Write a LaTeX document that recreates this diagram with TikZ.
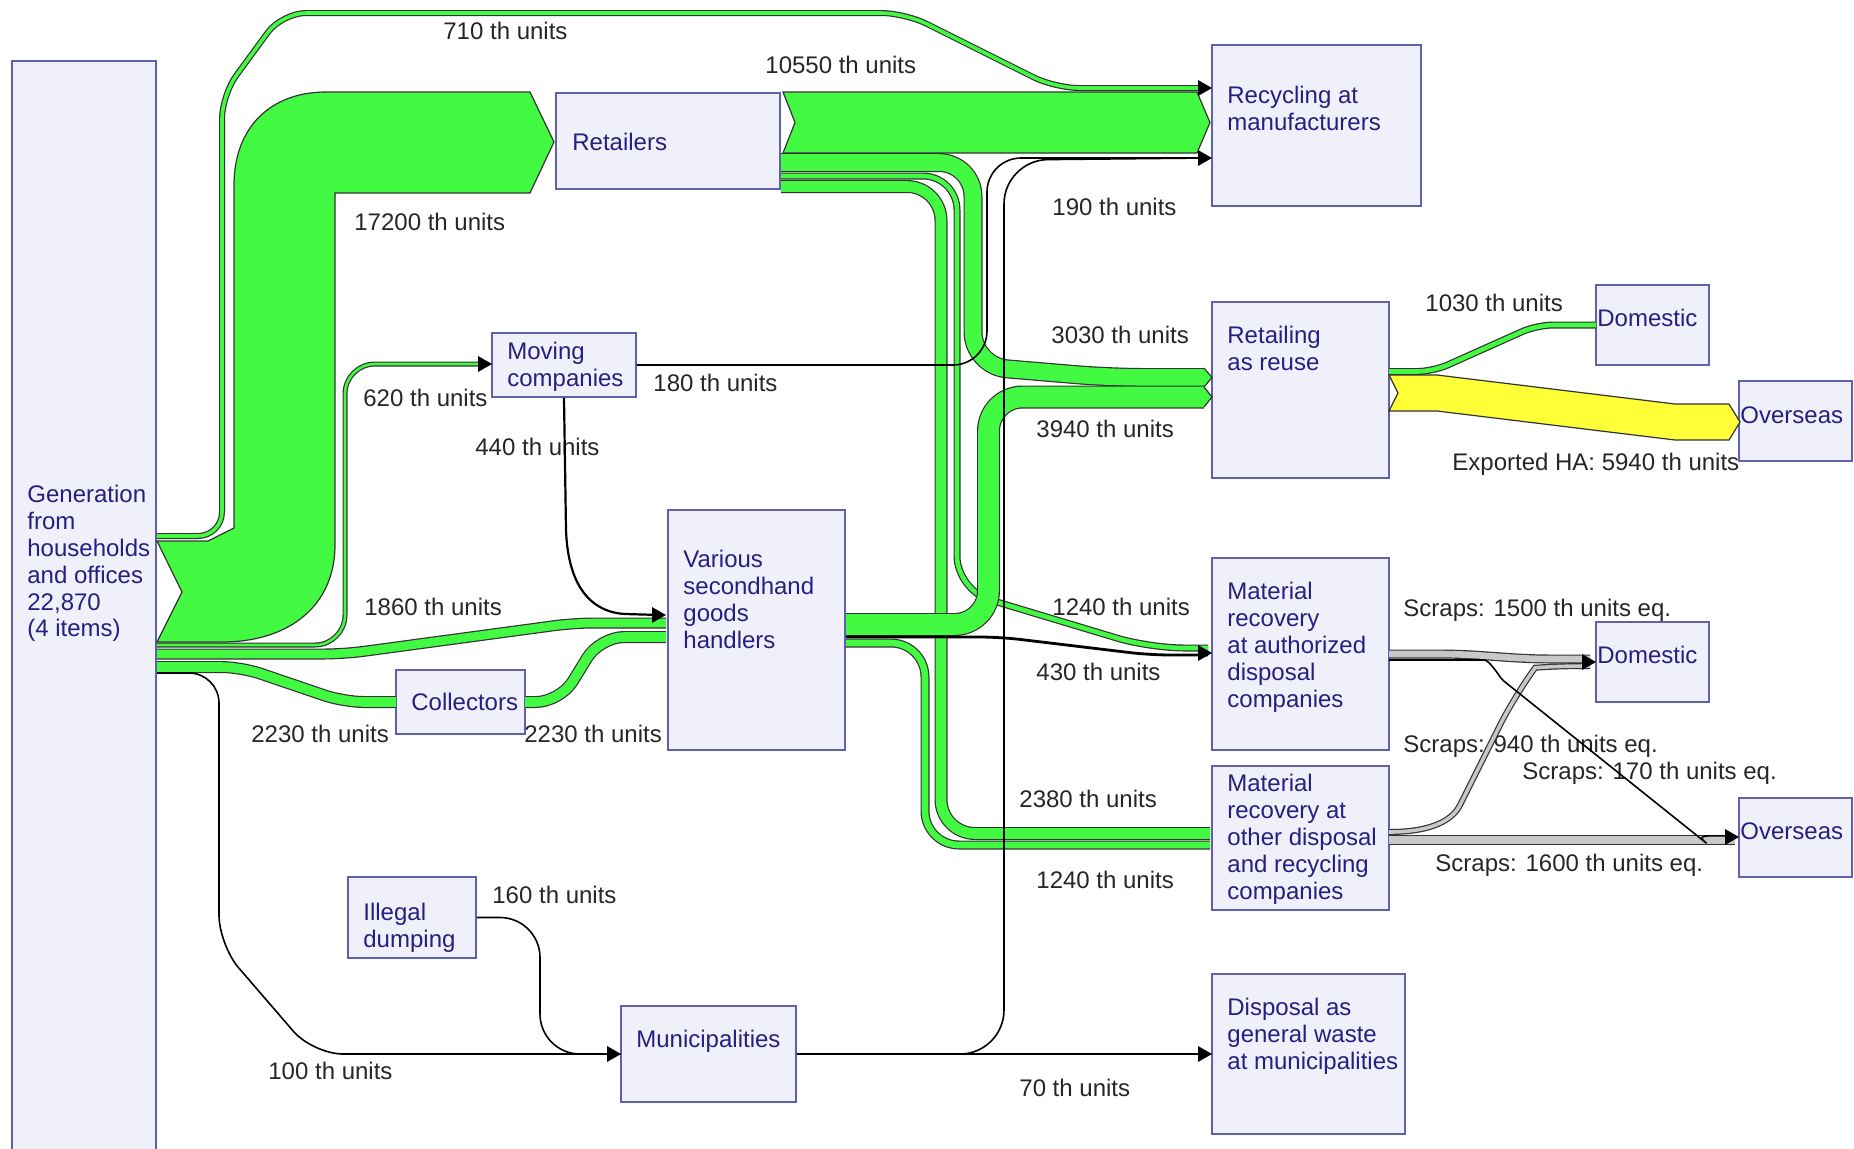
\documentclass[tikz,border=0pt]{standalone}
\usepackage{fontspec}
\setmainfont{Liberation Sans}

\definecolor{flowgreen}{RGB}{66,250,66}
\definecolor{flowyellow}{RGB}{255,255,56}
\definecolor{scrapgray}{RGB}{200,200,200}
\definecolor{boxfill}{RGB}{240,240,250}
\definecolor{boxline}{RGB}{96,96,176}
\definecolor{boxtext}{RGB}{40,30,130}

\tikzstyle{box} = [draw=boxline, fill=boxfill, line width=0.8pt, inner sep=0pt]
\tikzstyle{boxtxt} = [anchor=north west, inner sep=0pt, align=left, text=boxtext]
\tikzstyle{lbl} = [anchor=north west, inner sep=0pt, text=black!85]
\tikzstyle{flow} = [draw=black!80, line width=0.6pt, double=flowgreen, rounded corners=17pt]
\tikzstyle{scrap} = [flow, double=scrapgray, rounded corners=10pt]
\tikzstyle{wire} = [draw=black, line width=0.8pt, rounded corners=17pt]
\tikzstyle{sheet} = [fill=flowgreen, draw=black!80, line width=0.6pt]

\newcommand{\tipat}[1]{\fill ([shift={(-14,-8)}]#1) -- (#1) -- ([shift={(-14,8)}]#1) -- cycle;}
\newcommand{\chevat}[3]{\fill[flowgreen] (#1,#2) -- (#1+8,#2/2+#3/2) -- (#1,#3) -- cycle;
  \draw[black!80, line width=0.6pt] (#1,#2) -- (#1+8,#2/2+#3/2) -- (#1,#3);}

\begin{document}
\begin{tikzpicture}[x=0.5pt, y=-0.5pt, font=\fontsize{12}{13.4}\selectfont]
\useasboundingbox (0,0) rectangle (1854,1148);

\node[box, minimum width=72pt, minimum height=550pt] (gen) at (84,611) {};
\node[box, minimum width=112pt, minimum height=48pt] (ret) at (668,141) {};
\node[box, minimum width=104.5pt, minimum height=80.5pt] (rec) at (1316.5,125.5) {};
\node[box, minimum width=72pt, minimum height=32pt] (mov) at (564,365) {};
\node[box, minimum width=88.5pt, minimum height=88pt] (reu) at (1300.5,390) {};
\node[box, minimum width=56.5pt, minimum height=40pt] (domA) at (1652.5,325) {};
\node[box, minimum width=56.5pt, minimum height=40pt] (ovsA) at (1795.5,421) {};
\node[box, minimum width=88.5pt, minimum height=120pt] (var) at (756.5,630) {};
\node[box, minimum width=64.5pt, minimum height=32pt] (col) at (460.5,702) {};
\node[box, minimum width=88.5pt, minimum height=96pt] (auth) at (1300.5,654) {};
\node[box, minimum width=56.5pt, minimum height=40pt] (domB) at (1652.5,662) {};
\node[box, minimum width=88.5pt, minimum height=72pt] (oth) at (1300.5,838) {};
\node[box, minimum width=56.5pt, minimum height=39.5pt] (ovsB) at (1795.5,837.5) {};
\node[box, minimum width=64pt, minimum height=40.5pt] (ill) at (412,917.5) {};
\node[box, minimum width=87.5pt, minimum height=48pt] (mun) at (708.5,1054) {};
\node[box, minimum width=96.5pt, minimum height=80pt] (dis) at (1308.5,1054) {};

\node[boxtxt] (gentxt) at (27,485) {Generation\\from\\households\\and offices\\22,870\\(4 items)};
\node[boxtxt] (rettxt) at (572,133) {Retailers};
\node[boxtxt] (rectxt) at (1227,86) {Recycling at\\manufacturers};
\node[boxtxt] (movtxt) at (507,342) {Moving\\companies};
\node[boxtxt] (reutxt) at (1227,326) {Retailing\\as reuse};
\node[boxtxt] (domAtxt) at (1597,309) {Domestic};
\node[boxtxt] (ovsAtxt) at (1740,406) {Overseas};
\node[boxtxt] (vartxt) at (683,550) {Various\\secondhand\\goods\\handlers};
\node[boxtxt] (coltxt) at (411,693) {Collectors};
\node[boxtxt] (authtxt) at (1227,582) {Material\\recovery\\at authorized\\disposal\\companies};
\node[boxtxt] (domBtxt) at (1597,646) {Domestic};
\node[boxtxt] (othtxt) at (1227,774) {Material\\recovery at\\other disposal\\and recycling\\companies};
\node[boxtxt] (ovsBtxt) at (1740,822) {Overseas};
\node[boxtxt] (illtxt) at (363,903) {Illegal\\dumping};
\node[boxtxt] (muntxt) at (636,1030) {Municipalities};
\node[boxtxt] (distxt) at (1227,998) {Disposal as\\general waste\\at municipalities};

\node[lbl] (l710) at (443,22) {710 th units};
\node[lbl] (l10550) at (765,56) {10550 th units};
\node[lbl] (l17200) at (354,213) {17200 th units};
\node[lbl] (l190) at (1052,198) {190 th units};
\node[lbl] (l3030) at (1051,326) {3030 th units};
\node[lbl] (l620) at (363,389) {620 th units};
\node[lbl] (l180) at (653,374) {180 th units};
\node[lbl] (l440) at (475,438) {440 th units};
\node[lbl] (l3940) at (1036,420) {3940 th units};
\node[lbl] (l1030) at (1425,294) {1030 th units};
\node[lbl] (l5940) at (1452,453) {Exported HA: 5940 th units};
\node[lbl] (l1860) at (364,598) {1860 th units};
\node[lbl] (l1240a) at (1052,598) {1240 th units};
\node[lbl] (l430) at (1036,663) {430 th units};
\node[lbl] (l2230a) at (251,725) {2230 th units};
\node[lbl] (l2230b) at (524,725) {2230 th units};
\node[lbl] (l2380) at (1019,790) {2380 th units};
\node[lbl] (l1240b) at (1036,871) {1240 th units};
\node[lbl] (l160) at (492,886) {160 th units};
\node[lbl] (l100) at (268,1062) {100 th units};
\node[lbl] (l70) at (1019,1079) {70 th units};
\node[lbl] (s1500) at (1403,599) {Scraps: 1500 th units eq.};
\node[lbl] (s940) at (1403,735) {Scraps: 940 th units eq.};
\node[lbl] (s170) at (1522,762) {Scraps: 170 th units eq.};
\node[lbl] (s1600) at (1435,854) {Scraps: 1600 th units eq.};

\draw[flow, double distance=1.8pt, rounded corners=12pt] (157,536) -- (222,536) -- (222,95) -- (282,13) -- (905,13) -- (1055,88) -- (1200,88);
\filldraw[sheet] (157,541) -- (208,541) -- (234,528) -- (234,185) .. controls (234,128) and (270,92) .. (326,92) -- (530,92) -- (554,142) -- (530,193) -- (335,193) -- (335,545) .. controls (335,605) and (290,642) .. (222,642) -- (157,642) -- (182,592) -- cycle;
\filldraw[sheet] (783,92) -- (1197,92) -- (1210,122.5) -- (1197,153) -- (783,153) -- (795,122.5) -- cycle;

\draw[flow, double distance=5.3pt] (781,186.5) -- (941,186.5) -- (941,833.5) -- (1210,833.5);
\draw[flow, double distance=2.3pt] (781,176) -- (957,176) -- (957,590) -- (1150,648) -- (1208,648);
\draw[flow, double distance=8.3pt] (781,162.5) -- (973,162.5) -- (973,366) -- (1110,377.5) -- (1204,377.5);
\chevat{1204}{368}{387}

\draw[flow, double distance=10.3pt] (846,624.5) -- (988.5,624.5) -- (988.5,397) -- (1204,397);
\chevat{1204}{387}{407}
\draw[flow, double distance=3.3pt] (846,643) -- (925,643) -- (925,845) -- (1210,845);
\draw[black, line width=1.4pt, rounded corners=10pt] (846,637) -- (1000,637) -- (1150,655) -- (1208,655);

\draw[flow, double distance=1.3pt, rounded corners=15pt] (157,645) -- (345,645) -- (345,364) -- (482,364);
\draw[flow, double distance=4.3pt, rounded corners=10pt] (157,654) -- (344,654) -- (574,623) -- (666,623);
\draw[flow, double distance=4.8pt, rounded corners=10pt] (157,667) -- (241,667) -- (344,702) -- (396,702);
\draw[flow, double distance=4.8pt, rounded corners=12pt] (525,702) -- (560,702) -- (600,637) -- (666,637);

\draw[flow, double distance=2.3pt, rounded corners=8pt] (1389,371.5) -- (1433,371.5) -- (1537,325) -- (1596,325);
\filldraw[sheet, fill=flowyellow] (1389,375) -- (1437,375) -- (1675,404) -- (1729,404) -- (1740,422) -- (1729,440) -- (1675,440) -- (1437,411) -- (1389,411) -- (1398,393) -- cycle;

\draw[scrap, double distance=3.3pt] (1389,654) -- (1460,654) -- (1530,659) -- (1590,659);
\draw[scrap, double distance=3.8pt] (1389,840) -- (1735,840);
\draw[flow, double=scrapgray, double distance=1.8pt] (1389,832) .. controls (1440,832) and (1455,815) .. (1475,775) -- (1515,695) .. controls (1535,668) and (1550,666) .. (1590,666);
\draw[wire] (1389,660) -- (1450,660) .. controls (1490,660) and (1500,678) .. (1530,702) -- (1680,822) .. controls (1695,834) and (1705,836) .. (1735,836);

\draw[black, line width=1.1pt] (mov.south) -- (566,530) .. controls (568,585) and (590,612) .. (625,614) -- (660,615);
\draw[wire] (mov.east) -- (987,365) -- (987,158) -- (1205,158);
\draw[wire, rounded corners=22pt] (mun.east) -- (1004,1054) -- (1004,160) -- (1205,158);
\draw[wire] (mun.east) -- (dis.west);
\draw[wire, rounded corners=15pt] (157,673) -- (219,673) -- (219,945) -- (313,1054) -- (mun.west);
\draw[wire, rounded corners=20pt] (ill.east) -- (540,917.5) -- (540,1054) -- (mun.west);

\tipat{1212,88}
\tipat{1212,158}
\tipat{492,364}
\tipat{666,615}
\tipat{1212,653}
\tipat{621,1054}
\tipat{1212,1054}
\tipat{1596,662}
\tipat{1739,837}
\end{tikzpicture}
\end{document}
